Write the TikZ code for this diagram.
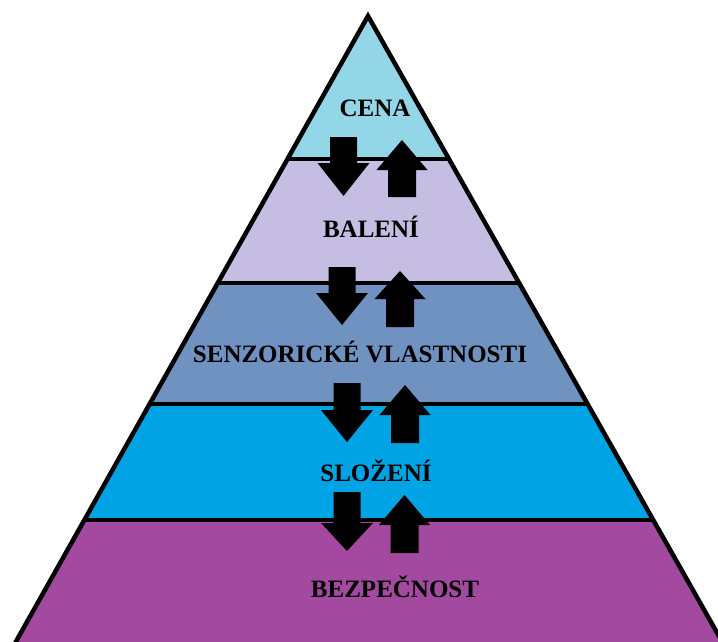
\documentclass[tikz,border=0pt]{standalone}
\usepackage{fontspec}
\setmainfont{Liberation Serif}
\definecolor{cCena}{HTML}{93D6E8}
\definecolor{cBaleni}{HTML}{C5BEE2}
\definecolor{cSenz}{HTML}{7092C0}
\definecolor{cSlozeni}{HTML}{00A4E4}
\definecolor{cBezp}{HTML}{A34AA0}
\newcommand{\mydown}[4]{\fill[black] (#1-13.5,#2) -- (#1+13.5,#2) -- (#1+13.5,#3) -- (#1+26,#3) -- (#1,#4) -- (#1-26,#3) -- (#1-13.5,#3) -- cycle;}
\newcommand{\myup}[4]{\fill[black] (#1-14,#2) -- (#1+14,#2) -- (#1+14,#3) -- (#1+25.5,#3) -- (#1,#4) -- (#1-25.5,#3) -- (#1-14,#3) -- cycle;}
\begin{document}
\begin{tikzpicture}[x=1pt,y=-1pt,
  lbl/.style={font=\bfseries\fontsize{25}{28}\selectfont, text=black, anchor=base, inner sep=0pt},
  sep/.style={line width=4pt, black},
  outline/.style={line width=4.5pt, black, line join=miter}]
\useasboundingbox (0,0) rectangle (718,642);
\coordinate (apex) at (368,16);
\coordinate (bl) at (14,645);
\coordinate (br) at (724,645);
\begin{scope}
  \clip (apex) -- (bl) -- (br) -- cycle;
  \fill[cCena] (0,0) rectangle (718,159);
  \fill[cBaleni] (0,159) rectangle (718,283);
  \fill[cSenz] (0,283) rectangle (718,404);
  \fill[cSlozeni] (0,404) rectangle (718,520);
  \fill[cBezp] (0,520) rectangle (730,650);
  \draw[sep] (0,159) -- (730,159);
  \draw[sep] (0,283) -- (730,283);
  \draw[sep] (0,404) -- (730,404);
  \draw[sep] (0,520) -- (730,520);
\end{scope}
\draw[outline] (bl) -- (apex) -- (br);
% arrows
\mydown{343.5}{137}{163}{196}
\myup{402}{197}{170}{140}
\mydown{342}{267}{293}{325}
\myup{400}{327}{299}{271}
\mydown{347}{383}{410}{442}
\myup{405}{443}{415}{385}
\mydown{347}{492}{523}{551}
\myup{404.5}{553}{525}{495}
% labels
\node[lbl] (cena) at (375,117) {CENA};
\node[lbl] (baleni) at (371,237) {BALENÍ};
\node[lbl] (senz) at (360,362) {SENZORICKÉ VLASTNOSTI};
\node[lbl] (slozeni) at (376,481) {SLOŽENÍ};
\node[lbl] (bezp) at (395,597) {BEZPEČNOST};
\end{tikzpicture}
\end{document}
